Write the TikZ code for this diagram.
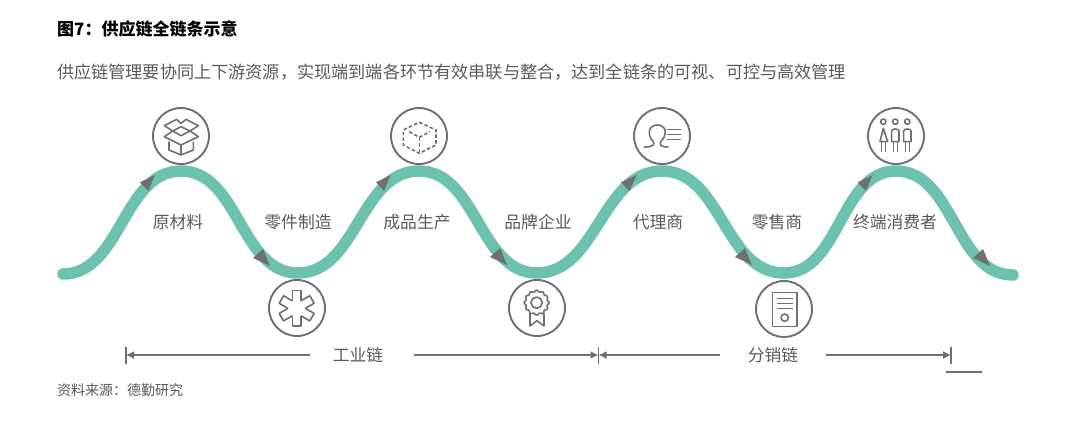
\documentclass[tikz,border=0pt]{standalone}
\usepackage{fontspec}
\setmainfont{Noto Sans CJK SC}
\definecolor{teal1}{HTML}{6CC2AE}
\definecolor{gray1}{HTML}{707070}
\definecolor{txt}{HTML}{5A5A5A}
\usetikzlibrary{arrows.meta}
\tikzset{
  wave/.style={draw=teal1,line width=11.5pt,line cap=round},
  ring/.style={circle,draw=gray1,line width=1.9pt,minimum size=56pt,inner sep=0pt,fill=white},
  ic/.style={draw=gray1,line width=1.6pt,line join=round},
  tri/.style={fill=gray1},
  lab/.style={font=\fontsize{16.8pt}{17pt}\selectfont,text=txt,inner sep=0pt},
  axis/.style={draw=gray1,line width=1.5pt},
  tickline/.style={draw=gray1,line width=1.5pt},
  arr/.style={axis,-{Latex[length=8pt,width=8pt]}}
}
\begin{document}
\begin{tikzpicture}[x=1pt,y=-1pt]
\useasboundingbox (0,0) rectangle (1080,434);
\fill[white] (0,0) rectangle (1080,434);
% title
\node[anchor=west,inner sep=0pt,font=\fontsize{17pt}{17pt}\selectfont\bfseries,text=black] (title) at (57,29) {图7：供应链全链条示意};
\node[anchor=west,inner sep=0pt,font=\fontsize{17.15pt}{18pt}\selectfont,text=txt] (sub) at (57,72) {供应链管理要协同上下游资源，实现端到端各环节有效串联与整合，达到全链条的可视、可控与高效管理};
% wave
\draw[wave] (63,274) .. controls (121,274) and (123,171) .. (181,171)
  .. controls (239,171) and (240,273) .. (298,273)
  .. controls (357,273) and (360,171) .. (419,171)
  .. controls (477,171) and (479,273) .. (537,273)
  .. controls (597,273) and (602,171) .. (662,171)
  .. controls (722,171) and (724,273) .. (784,273)
  .. controls (840,273) and (840,171) .. (896,171)
  .. controls (954,171) and (955,275) .. (1013,275);
% up triangles (zoom coordinates)
\begin{scope}[shift={(130,95)},x=.3333pt,y=-.3333pt]
  \fill[tri] (30,262)--(75,240)--(55,288)--cycle;
  \fill[tri] (738,262)--(782,240)--(762,288)--cycle;
\end{scope}
\begin{scope}[shift={(620,95)},x=.3333pt,y=-.3333pt]
  \fill[tri] (3,262)--(50,240)--(28,288)--cycle;
  \fill[tri] (713,262)--(758,240)--(738,288)--cycle;
\end{scope}
% down triangles
\foreach \px/\py in {253/249,490/248,735/248,973/249}{
  \begin{scope}[shift={(\px,\py)}]
    \fill[tri] (0,9)--(10,0)--(17,17)--cycle;
  \end{scope}
}
% rings
\node[ring] (n1) at (181,136) {};
\node[ring] (n2) at (419,136) {};
\node[ring] (n3) at (662,136) {};
\node[ring] (n4) at (896,136) {};
\node[ring] (n5) at (297,308) {};
\node[ring] (n6) at (537,308) {};
\node[ring] (n7) at (784,309) {};
% icon 1: box
\begin{scope}[shift={(130,95)},x=.3333pt,y=-.3333pt]
  \draw[ic] (117,140)--(117,165)--(153,180)--(190,165)--(190,140);
  \draw[ic] (153,150)--(153,180);
  \draw[ic] (128,108)--(153,95)--(180,108)--(153,122)--cycle;
  \draw[ic] (128,108)--(103,92)--(140,73)--(153,85)--(168,73)--(205,92)--(180,108)--(205,125)--(153,150)--(103,125)--cycle;
% icon 2: dashed cube
  \begin{scope}[ic,dash pattern=on 3.5pt off 2.2pt]
  \draw (868,82)--(918,105)--(918,150)--(868,175)--(820,150)--(820,105)--cycle;
  \draw (838,110)--(868,127)--(900,110);
  \draw (868,127)--(868,170);
  \end{scope}
\end{scope}
% icon 3 & 4
\begin{scope}[shift={(620,95)},x=.3333pt,y=-.3333pt]
  \draw[ic] (72,156) .. controls (100,156) and (104,150) .. (100,140) .. controls (80,120) and (85,90) .. (112,90) .. controls (140,90) and (143,120) .. (122,140) .. controls (118,150) and (122,156) .. (145,156);
  \draw[ic] (140,103)--(182,103) (140,118)--(182,118) (140,133)--(182,133);
  \foreach \hx in {790,826,862}{\draw[ic] (\hx,80) circle[radius=8];}
  \draw[ic] (790,100)--(780,140)--(803,140)--cycle;
  \draw[ic] (785,140)--(785,172) (797,140)--(797,172);
  \foreach \bx in {826,862}{
    \draw[ic] (\bx-11,140)--(\bx-11,108) .. controls (\bx-11,100) and (\bx+11,100) .. (\bx+11,108)--(\bx+11,140)--cycle;
    \draw[ic] (\bx-6,140)--(\bx-6,172) (\bx+6,140)--(\bx+6,172);
  }
\end{scope}
% icon 5 & 6
\begin{scope}[shift={(240,250)},x=.3333pt,y=-.3333pt]
  \foreach \a in {0,60,...,300}{
    \begin{scope}[shift={(170,175)},rotate=\a]
      \draw[ic] (-13,-22.5)--(-13,-53)--(13,-53)--(13,-22.5);
    \end{scope}
  }
  \draw[ic] plot[smooth,domain=0:360,samples=73,variable=\t] ({890+(35+2.5*cos(12*\t))*cos(\t)},{158+(35+2.5*cos(12*\t))*sin(\t)});
  \draw[ic] (890,158) circle[radius=17];
  \draw[ic] (870,190)--(870,228)--(891,212)--(912,228)--(912,190);
\end{scope}
% icon 7
\begin{scope}[shift={(700,250)},x=.3333pt,y=-.3333pt]
  \draw[ic] (217,127) rectangle (291,230);
  \draw[ic] (230,145)--(278,145) (230,160)--(278,160) (230,175)--(278,175);
  \draw[ic] (254,203) circle[radius=11];
\end{scope}
% labels
\node[lab] (a) at (178,222) {原材料};
\node[lab] (b) at (298,222) {零件制造};
\node[lab] (c) at (417,222) {成品生产};
\node[lab] (d) at (538,222) {品牌企业};
\node[lab] (e) at (658,222) {代理商};
\node[lab] (f) at (777,222) {零售商};
\node[lab] (g) at (895,222) {终端消费者};
% axis
\node[lab] (gy) at (358,355) {工业链};
\node[lab] (fx) at (773,355) {分销链};
\coordinate (t1) at (126,355);
\coordinate (t2) at (598.5,355);
\coordinate (t3) at (951,355);
\draw[tickline] ([yshift=-8.5pt]t1)--([yshift=8.5pt]t1);
\draw[tickline] ([yshift=-8.5pt]t2)--([yshift=8.5pt]t2);
\draw[tickline] ([yshift=-8.5pt]t3)--([yshift=8.5pt]t3);
\draw[arr] ([xshift=-48pt]gy.center)--(t1);
\draw[arr] ([xshift=56pt]gy.center)--(t2);
\draw[arr] ([xshift=-53pt]fx.center)--(t2);
\draw[arr] ([xshift=53pt]fx.center)--(t3);
\coordinate (s1) at (946,372);
\coordinate (s2) at (982,372);
\draw[axis] (s1)--(s2);
% source
\node[anchor=west,inner sep=0pt,font=\fontsize{14pt}{15pt}\selectfont,text=txt] (src) at (57,390) {资料来源：德勤研究};
\end{tikzpicture}
\end{document}
